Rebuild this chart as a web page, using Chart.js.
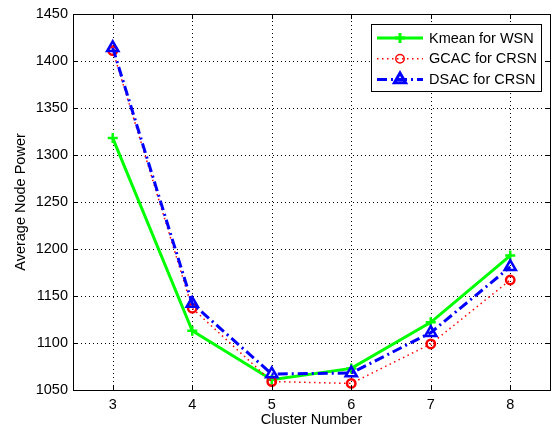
<!DOCTYPE html>
<html>
<head>
<meta charset="utf-8">
<script src="https://cdn.jsdelivr.net/npm/chart.js@4/dist/chart.umd.min.js"></script>
<style>
  html, body { margin: 0; padding: 0; background: #fff; }
  #wrap { width: 555px; height: 429px; }
</style>
</head>
<body>
<div id="wrap"><canvas id="chart" width="555" height="429"></canvas></div>
<script>
const clusterNumbers = [3, 4, 5, 6, 7, 8];
const kmeanWSN = [1318, 1113, 1061, 1073, 1122, 1193];
const gcacCRSN = [1411, 1137, 1059, 1057, 1099, 1167];
const dsacCRSN = [1414, 1142, 1067, 1068, 1111, 1181];
const yTicks = [1050, 1100, 1150, 1200, 1250, 1300, 1350, 1400, 1450];

const FONT = 'Liberation Sans, Arial, Helvetica, sans-serif';

const toPoints = (values) => clusterNumbers.map((x, i) => ({ x, y: values[i] }));

// dotted grid drawn under the lines
const gridPlugin = {
  id: 'dottedGrid',
  beforeDatasetsDraw(chart) {
    const { ctx, chartArea: a, scales } = chart;
    ctx.save();
    ctx.strokeStyle = '#000';
    ctx.lineWidth = 1;
    ctx.setLineDash([1, 3]);
    ctx.beginPath();
    clusterNumbers.forEach((v) => {
      const px = Math.round(scales.x.getPixelForValue(v)) + 0.5;
      ctx.moveTo(px, a.bottom);
      ctx.lineTo(px, a.top);
    });
    yTicks.forEach((v) => {
      const py = Math.round(scales.y.getPixelForValue(v)) + 0.5;
      ctx.moveTo(a.left, py);
      ctx.lineTo(a.right, py);
    });
    ctx.stroke();
    ctx.restore();
  },
};

// MATLAB style frame: box, inward ticks on all four sides
const framePlugin = {
  id: 'frame',
  afterDraw(chart) {
    const { ctx, chartArea: a, scales } = chart;
    const len = 5;
    ctx.save();
    ctx.strokeStyle = '#000';
    ctx.lineWidth = 1;
    ctx.beginPath();
    clusterNumbers.forEach((v) => {
      const px = Math.round(scales.x.getPixelForValue(v)) + 0.5;
      ctx.moveTo(px, a.bottom); ctx.lineTo(px, a.bottom - len);
      ctx.moveTo(px, a.top); ctx.lineTo(px, a.top + len);
    });
    yTicks.forEach((v) => {
      const py = Math.round(scales.y.getPixelForValue(v)) + 0.5;
      ctx.moveTo(a.left, py); ctx.lineTo(a.left + len, py);
      ctx.moveTo(a.right, py); ctx.lineTo(a.right - len, py);
    });
    ctx.stroke();
    ctx.strokeRect(Math.round(a.left) + 0.5, Math.round(a.top) + 0.5,
      Math.round(a.right - a.left), Math.round(a.bottom - a.top));
    ctx.restore();
  },
};

// legend box in the upper right corner
const legendPlugin = {
  id: 'boxLegend',
  afterDraw(chart) {
    const { ctx } = chart;
    const box = { x: 371, y: 24, w: 170, h: 67 };
    ctx.save();
    ctx.fillStyle = '#fff';
    ctx.fillRect(box.x, box.y, box.w, box.h);
    ctx.strokeStyle = '#000';
    ctx.lineWidth = 1;
    ctx.strokeRect(box.x + 0.5, box.y + 0.5, box.w, box.h);
    chart.data.datasets.forEach((ds, i) => {
      const y = 38 + i * 20.7;
      ctx.save();
      ctx.strokeStyle = ds.borderColor;
      ctx.lineWidth = ds.borderWidth;
      ctx.setLineDash(ds.borderDash || []);
      ctx.beginPath();
      ctx.moveTo(377, y);
      ctx.lineTo(423, y);
      ctx.stroke();
      ctx.setLineDash([]);
      ctx.strokeStyle = ds.pointBorderColor;
      ctx.fillStyle = ds.pointBackgroundColor;
      Chart.helpers.drawPoint(ctx, {
        pointStyle: ds.pointStyle,
        radius: ds.pointRadius,
        borderWidth: ds.pointBorderWidth,
        rotation: 0,
      }, 400, y);
      ctx.restore();
      ctx.fillStyle = '#000';
      ctx.font = '14.5px ' + FONT;
      ctx.textBaseline = 'middle';
      ctx.fillText(ds.label, 429, y + 0.5);
    });
    ctx.restore();
  },
};

const noPadding = (scale) => {
  scale.paddingLeft = 0;
  scale.paddingRight = 0;
  scale.paddingTop = 0;
  scale.paddingBottom = 0;
};

new Chart(document.getElementById('chart'), {
  type: 'line',
  data: {
    datasets: [
      {
        label: 'Kmean for WSN',
        data: toPoints(kmeanWSN),
        borderColor: '#00ff00',
        borderWidth: 3,
        pointStyle: 'cross',
        pointRadius: 5,
        pointBorderWidth: 2.5,
        pointBorderColor: '#00ff00',
        pointBackgroundColor: '#00ff00',
        order: 2,
      },
      {
        label: 'GCAC for CRSN',
        data: toPoints(gcacCRSN),
        borderColor: '#ff0000',
        borderWidth: 1.5,
        borderDash: [1.5, 3.5],
        pointStyle: 'circle',
        pointRadius: 4.2,
        pointBorderWidth: 2.5,
        pointBorderColor: '#ff0000',
        pointBackgroundColor: 'rgba(0,0,0,0)',
        order: 1,
      },
      {
        label: 'DSAC for CRSN',
        data: toPoints(dsacCRSN),
        borderColor: '#0000ff',
        borderWidth: 3,
        borderDash: [10, 4, 2, 4],
        pointStyle: 'triangle',
        pointRadius: 6.5,
        pointBorderWidth: 2.5,
        pointBorderColor: '#0000ff',
        pointBackgroundColor: 'rgba(0,0,0,0)',
        order: 0,
      },
    ],
  },
  options: {
    responsive: false,
    animation: false,
    events: [],
    layout: { autoPadding: false, padding: { top: 14, right: 5, left: 0, bottom: 0 } },
    plugins: {
      legend: { display: false },
      tooltip: { enabled: false },
    },
    elements: { line: { tension: 0 } },
    scales: {
      x: {
        type: 'linear',
        min: 2.5,
        max: 8.5,
        afterBuildTicks: (scale) => { scale.ticks = clusterNumbers.map((v) => ({ value: v })); },
        afterFit: (scale) => { scale.height = 39; noPadding(scale); },
        grid: { display: false, drawTicks: false },
        border: { display: false },
        ticks: {
          color: '#000',
          padding: 6,
          font: { family: FONT, size: 14.5 },
          callback: (v) => String(v),
        },
        title: {
          display: true,
          text: 'Cluster Number',
          color: '#000',
          font: { family: FONT, size: 14.5 },
          padding: { top: 0, bottom: 0 },
        },
      },
      y: {
        min: 1050,
        max: 1450,
        afterBuildTicks: (scale) => { scale.ticks = yTicks.map((v) => ({ value: v })); },
        afterFit: (scale) => { scale.width = 73; noPadding(scale); },
        grid: { display: false, drawTicks: false },
        border: { display: false },
        ticks: {
          color: '#000',
          padding: 5,
          font: { family: FONT, size: 14.5 },
          callback: (v) => String(v),
        },
        title: {
          display: true,
          text: 'Average Node Power',
          color: '#000',
          font: { family: FONT, size: 14.5 },
          padding: { top: 12, bottom: 0 },
        },
      },
    },
  },
  plugins: [gridPlugin, framePlugin, legendPlugin],
});
</script>
</body>
</html>
